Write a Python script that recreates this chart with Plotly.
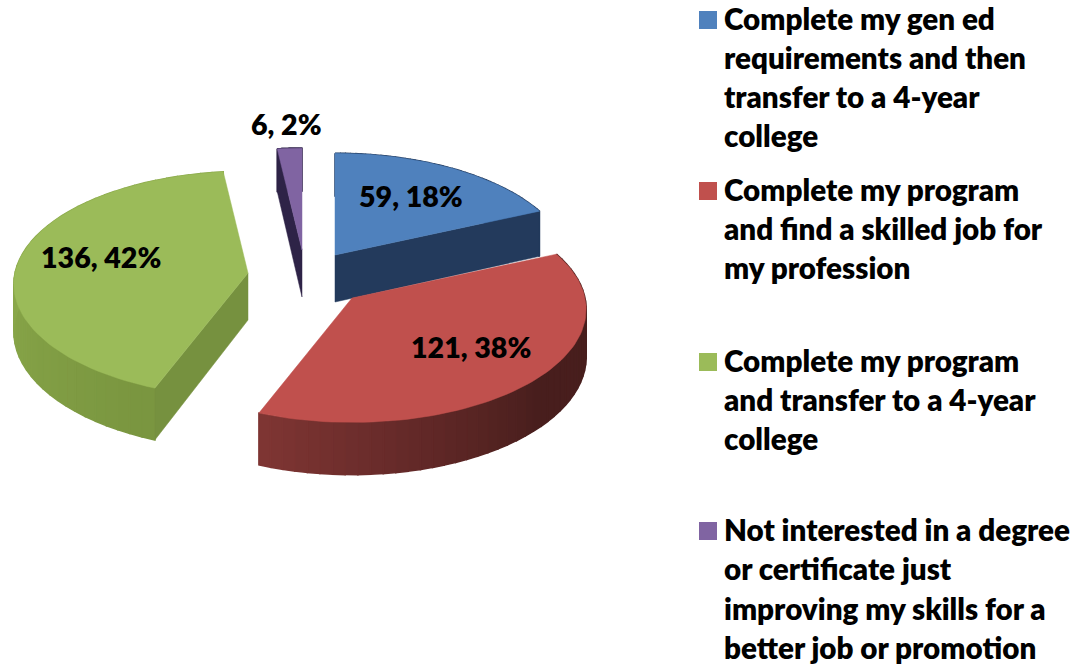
import math
import plotly.graph_objects as go

categories = ["Complete my gen ed requirements and then transfer to a 4-year college",
              "Complete my program and find a skilled job for my profession",
              "Complete my program and transfer to a 4-year college",
              "Not interested in a degree or certificate just improving my skills for a better job or promotion"]
legend_lines = [["Complete my gen ed", "requirements and then", "transfer to a 4-year", "college"],
                ["Complete my program", "and find a skilled job for", "my profession"],
                ["Complete my program", "and transfer to a 4-year", "college"],
                ["Not interested in a degree", "or certificate just", "improving my skills for a", "better job or promotion"]]
values = [59, 121, 136, 6]
percent_labels = ["18%", "38%", "42%", "2%"]

top_colors = ["#4f81bd", "#c0504d", "#9bbb59", "#8064a2"]
cut_colors = ["#233a5c", "#5a2625", "#76913f", "#2e2347"]
side_far = [(35, 58, 92), (72, 30, 29), (138, 168, 74), (46, 35, 71)]
side_near = [(35, 58, 92), (128, 54, 52), (122, 150, 64), (46, 35, 71)]
apex = [(335, 255), (352, 298), (248, 273), (302, 250)]
label_pos = [(411, 196), (471, 347), (101, 257), (286, 124)]
legend_y = [[18, 57, 96, 135], [189, 228, 267], [360, 399, 438], [529, 568, 608, 647]]

R, RY, K, DEPTH = 233, 112, 0.1, 47
FONT = "Lato"
FS_LEGEND = 29.6
FS_LABEL = 28.6


def proj(a, deg, r=1.0, lower=False):
    u = r * math.sin(math.radians(deg))
    v = r * math.cos(math.radians(deg))
    s = 1 / (1 + K * v)
    x = a[0] + R * u * s
    y = a[1] - RY * v * s + (DEPTH * s if lower else 0)
    return x, y


fig = go.Figure()


def poly(pts, color, width=0.5):
    xs = [p[0] for p in pts] + [pts[0][0]]
    ys = [p[1] for p in pts] + [pts[0][1]]
    fig.add_trace(go.Scatter(x=xs, y=ys, mode="lines", fill="toself", fillcolor=color,
                             line=dict(color=color, width=width), hoverinfo="skip", showlegend=False))


total = sum(values)
spans = []
acc = 0
for val in values:
    spans.append((acc, acc + val / total * 360))
    acc += val / total * 360

for i in [0, 3, 2, 1]:
    a = apex[i]
    t0, t1 = spans[i]
    n = 48
    for j in range(n):
        d0 = t0 + (t1 - t0) * j / n
        d1 = t0 + (t1 - t0) * (j + 1) / n
        f = min(1, max(0, (d0 - 130) / 70)) if i == 1 else 1 - min(1, (d0 - t0) / 70)
        c = [int(side_far[i][k] + (side_near[i][k] - side_far[i][k]) * f) for k in range(3)]
        poly([proj(a, d0), proj(a, d1), proj(a, d1, lower=True), proj(a, d0, lower=True)],
             "rgb(%d,%d,%d)" % tuple(c), 1.5)
    cut = {0: t1, 3: t0, 2: t0}.get(i)
    if cut is not None:
        poly([proj(a, cut, 0), proj(a, cut), proj(a, cut, lower=True), proj(a, cut, 0, lower=True)], cut_colors[i])
    arc = [proj(a, t0 + (t1 - t0) * j / 80) for j in range(81)]
    poly([proj(a, 0, 0)] + arc, top_colors[i])

annotations = []
for i, val in enumerate(values):
    annotations.append(dict(x=label_pos[i][0], y=label_pos[i][1], text=f"{val}, {percent_labels[i]}",
                            showarrow=False, xanchor="center", yanchor="middle",
                            font=dict(family=FONT, size=FS_LABEL, color="black", weight=800)))
    for line, ly in zip(legend_lines[i], legend_y[i]):
        annotations.append(dict(x=722, y=ly, text=line, showarrow=False, xanchor="left", yanchor="middle",
                                font=dict(family=FONT, size=FS_LEGEND, color="black", weight=800)))
    fig.add_trace(go.Scatter(x=[708], y=[legend_y[i][0] + 2], mode="markers", name=categories[i],
                             marker=dict(symbol="square", size=18, color=top_colors[i]),
                             hoverinfo="name", showlegend=False))

fig.update_layout(width=1078, height=665, margin=dict(l=0, r=0, t=0, b=0), autosize=False,
                  paper_bgcolor="white", plot_bgcolor="white", annotations=annotations, showlegend=False,
                  xaxis=dict(range=[0, 1078], visible=False, fixedrange=True),
                  yaxis=dict(range=[665, 0], visible=False, fixedrange=True))
fig.write_html("out.html", config={"displayModeBar": False},
               post_script="document.body.style.margin='0';document.documentElement.style.overflow='hidden';")
